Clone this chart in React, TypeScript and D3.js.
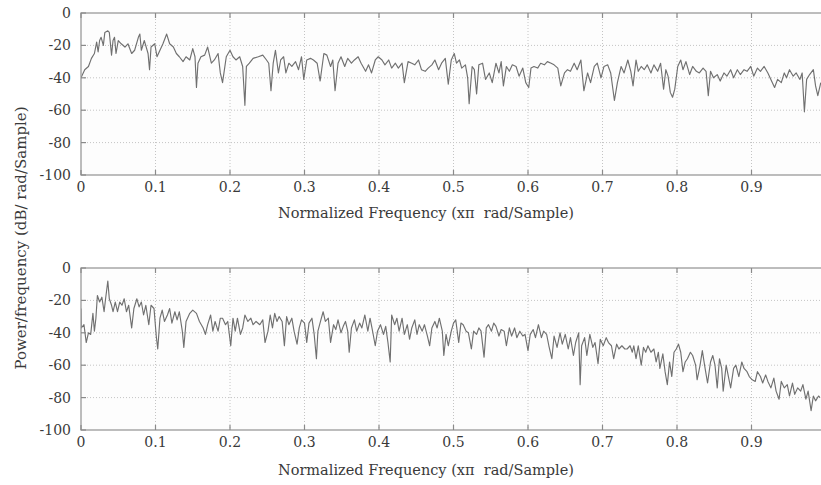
import React, { useEffect, useRef } from 'react';
import * as d3 from 'd3';

// Periodogram, upper panel
const topFreq = [
  0, 0.005, 0.01, 0.014, 0.018, 0.021, 0.023, 0.025, 0.027, 0.03, 0.032, 0.036, 0.038, 0.041, 0.043, 0.045, 0.047, 0.05,
  0.054, 0.059, 0.063, 0.068, 0.072, 0.077, 0.079, 0.081, 0.085, 0.09, 0.092, 0.094, 0.099, 0.102, 0.106, 0.11, 0.115,
  0.119, 0.124, 0.128, 0.132, 0.137, 0.141, 0.146, 0.15, 0.153, 0.155, 0.157, 0.161, 0.166, 0.17, 0.175, 0.179, 0.184,
  0.187, 0.19, 0.195, 0.2, 0.204, 0.208, 0.213, 0.217, 0.22, 0.222, 0.226, 0.231, 0.238, 0.244, 0.249, 0.252, 0.255,
  0.258, 0.261, 0.265, 0.268, 0.272, 0.275, 0.279, 0.283, 0.288, 0.292, 0.296, 0.299, 0.303, 0.308, 0.312, 0.317, 0.321,
  0.326, 0.33, 0.335, 0.338, 0.341, 0.345, 0.349, 0.354, 0.358, 0.363, 0.367, 0.372, 0.376, 0.382, 0.386, 0.39, 0.395,
  0.399, 0.404, 0.408, 0.413, 0.417, 0.422, 0.426, 0.431, 0.434, 0.439, 0.444, 0.448, 0.453, 0.457, 0.462, 0.466, 0.471,
  0.475, 0.48, 0.484, 0.489, 0.493, 0.497, 0.501, 0.504, 0.508, 0.511, 0.516, 0.519, 0.521, 0.525, 0.528, 0.531, 0.534,
  0.539, 0.543, 0.548, 0.552, 0.557, 0.561, 0.564, 0.567, 0.571, 0.575, 0.579, 0.584, 0.588, 0.593, 0.597, 0.601, 0.604,
  0.608, 0.613, 0.617, 0.622, 0.626, 0.631, 0.635, 0.64, 0.644, 0.649, 0.653, 0.657, 0.662, 0.666, 0.671, 0.675, 0.68,
  0.684, 0.689, 0.693, 0.698, 0.702, 0.707, 0.711, 0.716, 0.72, 0.725, 0.729, 0.734, 0.738, 0.741, 0.745, 0.748, 0.752,
  0.756, 0.76, 0.765, 0.769, 0.774, 0.778, 0.782, 0.785, 0.788, 0.791, 0.794, 0.797, 0.801, 0.805, 0.808, 0.812, 0.817,
  0.821, 0.826, 0.83, 0.835, 0.839, 0.842, 0.845, 0.849, 0.854, 0.858, 0.863, 0.867, 0.872, 0.876, 0.881, 0.885, 0.89,
  0.894, 0.899, 0.903, 0.908, 0.912, 0.917, 0.922, 0.926, 0.931, 0.935, 0.94, 0.944, 0.947, 0.951, 0.956, 0.96, 0.965,
  0.968, 0.971, 0.974, 0.978, 0.983, 0.986, 0.989, 0.993,
];
const topPower = [
  -40, -35, -33, -28, -25, -18, -24, -17, -15, -20, -12, -11, -12, -26, -17, -15, -25, -17,
  -19, -21, -19, -25, -23, -15, -13, -23, -17, -25, -35, -21, -19, -27, -23, -19, -13,
  -19, -21, -25, -27, -30, -27, -29, -22, -27, -46, -31, -27, -26, -21, -31, -29, -25,
  -37, -43, -27, -23, -27, -29, -27, -33, -57, -33, -31, -28, -27, -26, -29, -31, -48,
  -31, -23, -37, -29, -27, -37, -31, -33, -30, -35, -27, -41, -29, -28, -29, -31, -42,
  -25, -26, -33, -29, -48, -31, -27, -33, -28, -31, -29, -27, -31, -36, -32, -37, -29,
  -27, -29, -32, -29, -34, -31, -34, -31, -43, -30, -31, -32, -29, -35, -36, -34, -32,
  -29, -35, -31, -28, -44, -29, -25, -31, -29, -34, -32, -40, -56, -33, -35, -50, -32,
  -31, -41, -37, -43, -31, -37, -30, -45, -33, -36, -32, -33, -39, -34, -43, -46, -34,
  -33, -34, -31, -32, -30, -31, -32, -34, -45, -37, -35, -36, -31, -35, -29, -48, -37,
  -43, -33, -31, -40, -33, -32, -37, -54, -43, -33, -37, -29, -36, -45, -29, -36, -33,
  -35, -32, -37, -32, -36, -31, -47, -35, -39, -49, -52, -47, -33, -29, -35, -30, -38,
  -33, -36, -37, -34, -36, -51, -36, -40, -38, -42, -37, -39, -35, -40, -35, -38, -35,
  -36, -33, -39, -34, -36, -33, -37, -41, -46, -41, -43, -37, -40, -35, -39, -37, -41,
  -37, -61, -41, -38, -35, -45, -51, -43,
];

// Lower panel
const bottomFreq = [
  0, 0.0004, 0.004, 0.007, 0.01, 0.013, 0.016, 0.018, 0.02, 0.022, 0.025, 0.028, 0.031, 0.033, 0.036, 0.038, 0.041,
  0.043, 0.046, 0.049, 0.052, 0.055, 0.058, 0.061, 0.064, 0.068, 0.071, 0.075, 0.078, 0.081, 0.084, 0.087, 0.091, 0.094,
  0.098, 0.101, 0.103, 0.106, 0.109, 0.112, 0.116, 0.119, 0.122, 0.126, 0.129, 0.132, 0.136, 0.138, 0.141, 0.146, 0.15,
  0.155, 0.159, 0.164, 0.167, 0.17, 0.174, 0.177, 0.18, 0.184, 0.187, 0.19, 0.194, 0.197, 0.201, 0.204, 0.207, 0.21,
  0.214, 0.217, 0.22, 0.224, 0.228, 0.231, 0.235, 0.24, 0.244, 0.247, 0.251, 0.254, 0.257, 0.26, 0.263, 0.266, 0.27,
  0.273, 0.276, 0.279, 0.283, 0.286, 0.29, 0.293, 0.296, 0.3, 0.303, 0.306, 0.31, 0.313, 0.316, 0.318, 0.322, 0.325,
  0.328, 0.332, 0.335, 0.339, 0.342, 0.345, 0.349, 0.352, 0.355, 0.358, 0.36, 0.363, 0.367, 0.37, 0.374, 0.377, 0.381,
  0.385, 0.388, 0.391, 0.395, 0.398, 0.402, 0.406, 0.409, 0.412, 0.415, 0.417, 0.421, 0.424, 0.427, 0.431, 0.434, 0.438,
  0.441, 0.444, 0.448, 0.451, 0.454, 0.458, 0.461, 0.465, 0.468, 0.471, 0.475, 0.478, 0.481, 0.485, 0.487, 0.49, 0.493,
  0.497, 0.5, 0.503, 0.507, 0.51, 0.513, 0.517, 0.52, 0.524, 0.527, 0.531, 0.534, 0.537, 0.541, 0.544, 0.547, 0.551,
  0.554, 0.557, 0.561, 0.564, 0.568, 0.571, 0.575, 0.578, 0.582, 0.585, 0.589, 0.593, 0.596, 0.6, 0.603, 0.607, 0.61,
  0.614, 0.618, 0.621, 0.625, 0.628, 0.632, 0.635, 0.639, 0.643, 0.646, 0.65, 0.654, 0.657, 0.661, 0.664, 0.668, 0.67,
  0.672, 0.676, 0.679, 0.683, 0.687, 0.69, 0.694, 0.697, 0.701, 0.705, 0.708, 0.712, 0.715, 0.719, 0.722, 0.726, 0.73,
  0.733, 0.737, 0.74, 0.742, 0.745, 0.748, 0.752, 0.755, 0.758, 0.761, 0.765, 0.769, 0.772, 0.775, 0.777, 0.781, 0.784,
  0.787, 0.79, 0.793, 0.796, 0.799, 0.802, 0.805, 0.808, 0.811, 0.814, 0.818, 0.821, 0.825, 0.827, 0.831, 0.834, 0.837,
  0.841, 0.845, 0.848, 0.851, 0.854, 0.857, 0.86, 0.862, 0.866, 0.869, 0.872, 0.876, 0.879, 0.883, 0.887, 0.89, 0.894,
  0.897, 0.901, 0.905, 0.908, 0.912, 0.915, 0.919, 0.922, 0.926, 0.93, 0.933, 0.937, 0.94, 0.944, 0.948, 0.951, 0.955,
  0.958, 0.962, 0.966, 0.969, 0.973, 0.976, 0.98, 0.983, 0.986, 0.99, 0.992,
];
const bottomPower = [
  -25, -37, -35, -46, -40, -41, -28, -39, -31, -17, -21, -18, -27, -19, -8, -19, -23,
  -27, -21, -27, -21, -23, -19, -27, -23, -37, -25, -19, -24, -21, -29, -23, -35, -23,
  -25, -42, -50, -31, -26, -33, -29, -25, -34, -27, -32, -27, -39, -49, -33, -28, -26,
  -28, -33, -37, -41, -35, -29, -39, -33, -39, -31, -31, -35, -33, -48, -31, -39, -31,
  -41, -37, -29, -33, -31, -35, -33, -35, -32, -46, -39, -29, -37, -28, -33, -30, -33,
  -48, -30, -35, -31, -39, -47, -37, -32, -34, -46, -34, -31, -41, -56, -39, -32, -27,
  -33, -31, -46, -35, -38, -32, -40, -36, -33, -39, -52, -37, -32, -39, -34, -37, -29,
  -39, -31, -38, -48, -39, -35, -41, -36, -46, -58, -29, -35, -31, -39, -31, -41, -35,
  -44, -37, -32, -41, -35, -39, -35, -42, -48, -37, -33, -37, -31, -39, -54, -41, -48,
  -39, -34, -32, -46, -34, -35, -39, -40, -50, -39, -41, -37, -39, -55, -37, -35, -39,
  -34, -36, -42, -38, -39, -48, -37, -42, -37, -43, -39, -42, -41, -51, -41, -38, -43,
  -35, -43, -39, -41, -48, -56, -42, -49, -40, -47, -41, -50, -43, -54, -46, -40, -72,
  -48, -43, -54, -41, -49, -46, -59, -44, -48, -43, -46, -48, -56, -47, -50, -48, -50,
  -50, -48, -52, -48, -56, -48, -60, -49, -52, -48, -52, -50, -58, -52, -62, -53, -64,
  -72, -58, -67, -52, -50, -47, -52, -64, -58, -56, -52, -54, -60, -69, -60, -51, -60,
  -71, -58, -54, -60, -74, -56, -62, -76, -60, -67, -74, -62, -60, -67, -58, -62, -64,
  -67, -69, -70, -64, -67, -71, -66, -70, -74, -68, -76, -81, -70, -74, -72, -79, -71,
  -78, -74, -76, -72, -81, -76, -88, -79, -82, -79, -80,
];

const xTicks = [0, 0.1, 0.2, 0.3, 0.4, 0.5, 0.6, 0.7, 0.8, 0.9];
const yTicks = [0, -20, -40, -60, -80, -100];
const xLabel = 'Normalized Frequency (x\u03c0  rad/Sample)';
const yLabel = 'Power/frequency (dB/ rad/Sample)';

const FONT = '"DejaVu Serif", Georgia, serif';
const TEXT = '#3a3a3a';

const App = () => {
  const svgRef = useRef<SVGSVGElement>(null);

  useEffect(() => {
    if (!svgRef.current) return;
    const width = 821;
    const height = 485;
    const svg = d3.select(svgRef.current);
    svg.selectAll('*').remove();

    svg.append('rect').attr('width', width).attr('height', height).attr('fill', '#fff');

    const x = d3.scaleLinear().domain([0, 1]).range([81, 826]);

    const panels = [
      { id: 'top', y0: 13, y1: 175, freq: topFreq, power: topPower, labelY: 218 },
      { id: 'bot', y0: 268, y1: 430, freq: bottomFreq, power: bottomPower, labelY: 475 },
    ];

    panels.forEach(p => {
      const y = d3.scaleLinear().domain([-100, 0]).range([p.y1, p.y0]);
      const g = svg.append('g');

      g.append('rect')
        .attr('x', x(0)).attr('y', p.y0)
        .attr('width', x(1) - x(0)).attr('height', p.y1 - p.y0)
        .attr('fill', '#fdfdfd');

      // dotted grid
      g.selectAll('.vgrid').data(xTicks.slice(1)).enter().append('line')
        .attr('x1', d => x(d)).attr('x2', d => x(d))
        .attr('y1', p.y0).attr('y2', p.y1)
        .attr('stroke', '#c4c4c4').attr('stroke-width', 1).attr('stroke-dasharray', '1,2');
      g.selectAll('.hgrid').data(yTicks.slice(1, -1)).enter().append('line')
        .attr('x1', x(0)).attr('x2', x(1))
        .attr('y1', d => y(d)).attr('y2', d => y(d))
        .attr('stroke', '#c4c4c4').attr('stroke-width', 1).attr('stroke-dasharray', '1,2');

      // series
      g.append('clipPath').attr('id', `clip-${p.id}`)
        .append('rect').attr('x', x(0)).attr('y', p.y0)
        .attr('width', x(1) - x(0)).attr('height', p.y1 - p.y0);

      const line = d3.line<number>()
        .x((_, i) => x(p.freq[i]))
        .y(d => y(d));

      g.append('path')
        .datum(p.power)
        .attr('clip-path', `url(#clip-${p.id})`)
        .attr('d', line)
        .attr('fill', 'none')
        .attr('stroke', '#707070')
        .attr('stroke-width', 1.15)
        .attr('stroke-linejoin', 'round');

      // box
      g.append('rect')
        .attr('x', x(0)).attr('y', p.y0)
        .attr('width', x(1) - x(0)).attr('height', p.y1 - p.y0)
        .attr('fill', 'none').attr('stroke', '#9a9a9a').attr('stroke-width', 1.3);

      // tick marks, inward, on top/bottom and left
      xTicks.forEach(t => {
        g.append('line').attr('x1', x(t)).attr('x2', x(t)).attr('y1', p.y0).attr('y2', p.y0 + 5)
          .attr('stroke', '#8a8a8a').attr('stroke-width', 1.2);
        g.append('line').attr('x1', x(t)).attr('x2', x(t)).attr('y1', p.y1).attr('y2', p.y1 - 5)
          .attr('stroke', '#8a8a8a').attr('stroke-width', 1.2);
      });
      yTicks.forEach(t => {
        g.append('line').attr('x1', x(0)).attr('x2', x(0) + 5).attr('y1', y(t)).attr('y2', y(t))
          .attr('stroke', '#8a8a8a').attr('stroke-width', 1.2);
      });

      // tick labels
      g.selectAll('.xl').data(xTicks).enter().append('text')
        .attr('x', d => x(d)).attr('y', p.y1 + 17)
        .attr('text-anchor', 'middle')
        .attr('font-family', FONT).attr('font-size', 14).attr('fill', TEXT)
        .text(d => (d === 0 ? '0' : d3.format('.1f')(d)));
      g.selectAll('.yl').data(yTicks).enter().append('text')
        .attr('x', 71).attr('y', d => y(d) + 5)
        .attr('text-anchor', 'end')
        .attr('font-family', FONT).attr('font-size', 14).attr('fill', TEXT)
        .text(d => String(d));

      g.append('text')
        .attr('x', 426).attr('y', p.labelY)
        .attr('text-anchor', 'middle')
        .attr('font-family', FONT).attr('font-size', 14.5).attr('fill', TEXT)
        .style('white-space', 'pre')
        .text(xLabel);
    });

    svg.append('text')
      .attr('transform', 'translate(26, 238) rotate(-90)')
      .attr('text-anchor', 'middle')
      .attr('font-family', FONT).attr('font-size', 15).attr('fill', TEXT)
      .text(yLabel);
  }, []);

  return (
    <svg
      ref={svgRef}
      width={821}
      height={485}
      style={{ position: 'absolute', left: 0, top: 0, display: 'block' }}
    />
  );
};

export default App;
